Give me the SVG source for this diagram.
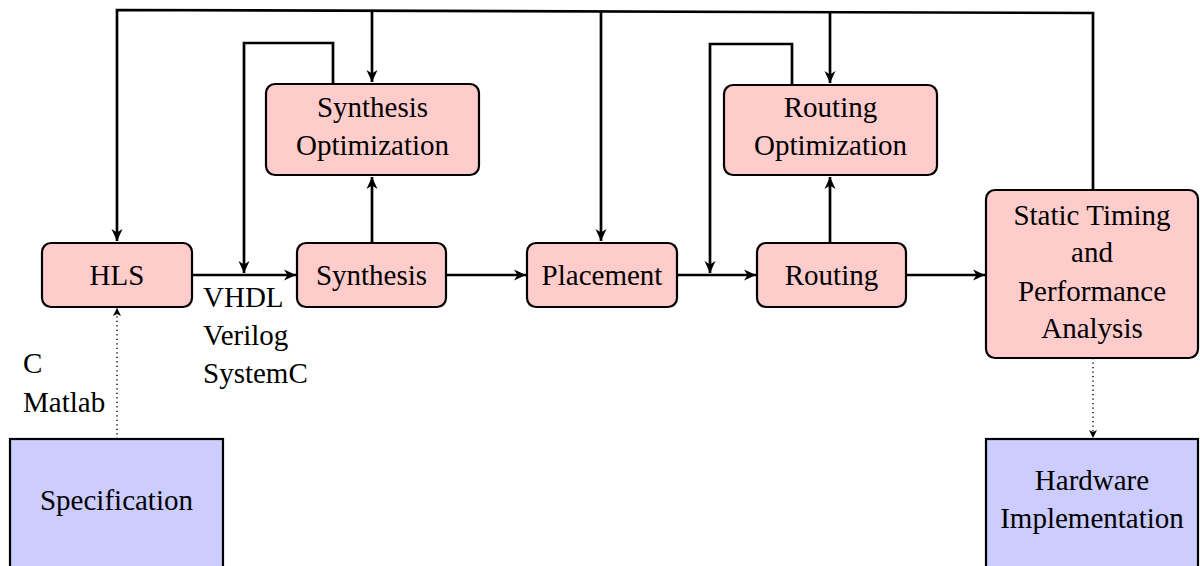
<svg xmlns="http://www.w3.org/2000/svg" width="1200" height="566" viewBox="0 0 1200 566">
<style>
.n{fill:#ffcccc;stroke:#000;stroke-width:2.2}
.b{fill:#ccccff;stroke:#000;stroke-width:2.2}
text{font-size:29px;fill:#000}
.c{text-anchor:middle}
.e{fill:none;stroke:#000;stroke-width:2.7}
.d{fill:none;stroke:#000;stroke-width:1.4;stroke-dasharray:1.3 3.2}
</style>
<defs>
<marker id="ah" markerUnits="userSpaceOnUse" markerWidth="14" markerHeight="12" viewBox="-12 -6 14 12" refX="0" refY="0" orient="auto">
<path d="M0,0 L-12,-5.5 L-8.5,0 L-12,5.5 Z" fill="#000"/>
</marker>
<marker id="ahs" markerUnits="userSpaceOnUse" markerWidth="10" markerHeight="10" viewBox="-9 -5 10 10" refX="0" refY="0" orient="auto">
<path d="M0,0 L-8,-4 L-6,0 L-8,4 Z" fill="#000"/>
</marker>
</defs>
<g id="connectors">
<path class="e" d="M1093,190 L1093,13 L117,10 L117,241" marker-end="url(#ah)"/>
<path class="e" d="M372,11 L372,82" marker-end="url(#ah)"/>
<path class="e" d="M601,12 L601,241" marker-end="url(#ah)"/>
<path class="e" d="M830,12.5 L830,83" marker-end="url(#ah)"/>
<path class="e" d="M192,275 L296,275" marker-end="url(#ah)"/>
<path class="e" d="M333,84 L333,43 L244,43 L244,273" marker-end="url(#ah)"/>
<path class="e" d="M372,243 L372,177" marker-end="url(#ah)"/>
<path class="e" d="M446,275 L526,275" marker-end="url(#ah)"/>
<path class="e" d="M677,275 L756,275" marker-end="url(#ah)"/>
<path class="e" d="M792,85 L792,44 L710,44 L710,273" marker-end="url(#ah)"/>
<path class="e" d="M830,243 L830,177" marker-end="url(#ah)"/>
<path class="e" d="M906,275 L985,275" marker-end="url(#ah)"/>
<path class="d" d="M117,439 L117,308" marker-end="url(#ahs)"/>
<path class="d" d="M1093,358 L1093,438" marker-end="url(#ahs)"/>
</g>
<g font-family="Liberation Serif, serif">
<g id="hls"><rect class="n" x="42" y="243" width="150" height="64" rx="9"/><text class="c" x="117" y="285">HLS</text></g>
<g id="synthesis"><rect class="n" x="297" y="243" width="149" height="64" rx="9"/><text class="c" x="371.5" y="285">Synthesis</text></g>
<g id="placement"><rect class="n" x="527" y="243" width="150" height="64" rx="9"/><text class="c" x="602" y="285">Placement</text></g>
<g id="routing"><rect class="n" x="757" y="243" width="149" height="64" rx="9"/><text class="c" x="831.5" y="285">Routing</text></g>
<g id="synopt"><rect class="n" x="266" y="84" width="213" height="91" rx="9"/><text class="c" x="372.5" y="117">Synthesis</text><text class="c" x="372.5" y="155">Optimization</text></g>
<g id="routopt"><rect class="n" x="724" y="85" width="213" height="90" rx="9"/><text class="c" x="830.5" y="117">Routing</text><text class="c" x="830.5" y="155">Optimization</text></g>
<g id="sta"><rect class="n" x="986" y="190" width="212" height="168" rx="9"/><text class="c" x="1092" y="225">Static Timing</text><text class="c" x="1092" y="262">and</text><text class="c" x="1092" y="301">Performance</text><text class="c" x="1092" y="338">Analysis</text></g>
<g id="spec"><rect class="b" x="10" y="439" width="213" height="140"/><text class="c" x="116.5" y="510">Specification</text></g>
<g id="hw"><rect class="b" x="986" y="439" width="212" height="140"/><text class="c" x="1092" y="490">Hardware</text><text class="c" x="1092" y="528">Implementation</text></g>
<g id="labels">
<text x="203" y="307">VHDL</text><text x="203" y="345">Verilog</text><text x="203" y="383">SystemC</text>
<text x="23" y="373">C</text><text x="23" y="412">Matlab</text>
</g>
</g>
</svg>
